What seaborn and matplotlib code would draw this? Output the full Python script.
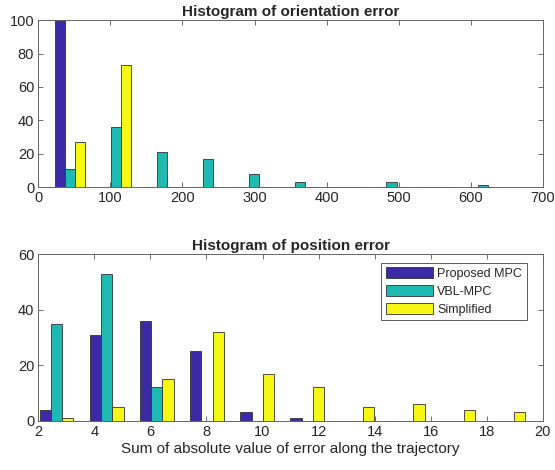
import pandas as pd
import seaborn as sns
import matplotlib.pyplot as plt

methods = ["Proposed MPC", "VBL-MPC", "Simplified"]
colors = ["#3b2aa6", "#1cbab2", "#f7f714"]

# orientation error histogram (bin centers + counts)
orient_bins = [44, 108, 172, 235, 299, 363, 426, 490, 554, 617]
orient_proposed = [100, 0, 0, 0, 0, 0, 0, 0, 0, 0]
orient_vbl = [11, 36, 21, 17, 8, 3, 0, 3, 0, 1]
orient_simple = [27, 73, 0, 0, 0, 0, 0, 0, 0, 0]

# position error histogram
pos_bins = [2.65, 4.44, 6.23, 8.02, 9.81, 11.60, 13.39, 15.18, 16.97, 18.76]
pos_proposed = [4, 31, 36, 25, 3, 1, 0, 0, 0, 0]
pos_vbl = [35, 53, 12, 0, 0, 0, 0, 0, 0, 0]
pos_simple = [1, 5, 15, 32, 17, 12, 5, 6, 4, 3]


def make_df(bins, *series):
    rows = []
    for name, vals in zip(methods, series):
        for b, v in zip(bins, vals):
            rows.append({"bin": b, "count": v, "method": name})
    return pd.DataFrame(rows)


sns.set_style("ticks")
plt.rcParams['font.family'] = ['Liberation Sans', 'DejaVu Sans']
plt.rcParams['font.size'] = 10

fig = plt.figure(figsize=(5.55, 4.70), dpi=100)
ax1 = fig.add_axes([0.069, 0.602, 0.909, 0.355])
ax2 = fig.add_axes([0.069, 0.105, 0.909, 0.354])


def draw(ax, df, xlim, ylim, xticks, yticks, title):
    sns.barplot(data=df, x="bin", y="count", hue="method", hue_order=methods,
                palette=colors, native_scale=True, width=0.675, gap=0,
                saturation=1, edgecolor="#333333", linewidth=0.6,
                errorbar=None, ax=ax, legend=False)
    for p in ax.patches:
        p.set_clip_on(False)
    ax.set_xlim(*xlim)
    ax.set_ylim(*ylim)
    ax.set_xticks(xticks)
    ax.set_yticks(yticks)
    ax.set_xlabel("")
    ax.set_ylabel("")
    ax.set_title(title, fontsize=11, fontweight="bold", pad=3)
    ax.tick_params(direction="in", length=3.5, width=0.6, color="#555555",
                   labelcolor="#262626", labelsize=10.5, top=True, right=True, pad=3)
    for s in ax.spines.values():
        s.set_visible(True)
        s.set_color("#666666")
        s.set_linewidth(0.7)


draw(ax1, make_df(orient_bins, orient_proposed, orient_vbl, orient_simple),
     (0, 700), (0, 100), range(0, 701, 100), range(0, 101, 20),
     "Histogram of orientation error")
draw(ax2, make_df(pos_bins, pos_proposed, pos_vbl, pos_simple),
     (2, 20), (0, 60), range(2, 21, 2), range(0, 61, 20),
     "Histogram of position error")
ax2.set_xlabel("Sum of absolute value of error along the trajectory",
               fontsize=11, color="#262626", labelpad=2)

handles = [plt.Rectangle((0, 0), 1, 1, facecolor=c, edgecolor="#333333", linewidth=0.6)
           for c in colors]
leg = ax2.legend(handles, methods, loc="upper right", fontsize=9, frameon=True,
                 fancybox=False, handlelength=3.8, handleheight=1.0,
                 bbox_to_anchor=(0.968, 0.948), borderaxespad=0,
                 labelspacing=0.4, handletextpad=0.35, borderpad=0.35)
leg.get_frame().set_edgecolor("#333333")
leg.get_frame().set_linewidth(0.7)

fig.savefig("out.png", dpi=100)
